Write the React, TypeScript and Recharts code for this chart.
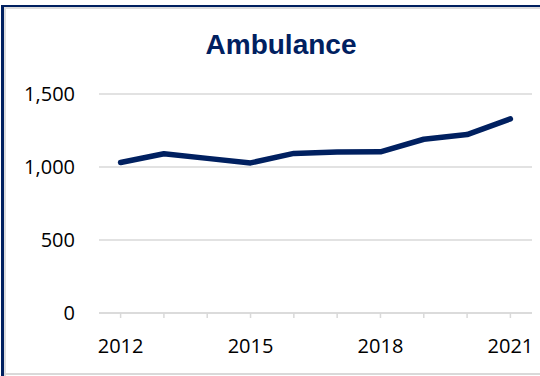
import React from 'react';
import { LineChart, Line, XAxis, YAxis, CartesianGrid } from 'recharts';

const years = ['2012', '2013', '2014', '2015', '2016', '2017', '2018', '2019', '2020', '2021'];
const ambulance = [1031, 1091, 1059, 1028, 1093, 1102, 1104, 1190, 1222, 1330];
const yTicks = [0, 500, 1000, 1500];
const shownYears = ['2012', '2015', '2018', '2021'];

const data = years.map((y, i) => ({ year: y, value: ambulance[i] }));

const NAVY = '#002060';
const GRID = '#d9d9d9';
const FONT = '"Open Sans", "Liberation Sans", Arial, sans-serif';

export default function App() {
  return (
    <div style={{ position: 'fixed', left: 0, top: 0, width: 540, height: 376, overflow: 'hidden', background: '#fff' }}>
      {/* frame */}
      <div style={{ position: 'absolute', left: 4, top: 7, width: 600, height: 600, borderLeft: '2px solid #dcdcdc', borderTop: '2px solid #dcdcdc', boxSizing: 'border-box' }} />
      <div style={{ position: 'absolute', left: 1, top: 5, width: 3, height: 371, background: NAVY }} />
      <div style={{ position: 'absolute', left: 1, top: 5, width: 600, height: 2, background: NAVY }} />
      <div style={{ position: 'absolute', left: 4, top: 373, width: 540, height: 2, background: GRID }} />
      <svg style={{ position: 'absolute', left: 0, top: 0 }} width={540} height={70}>
        <text x={281} y={54} textAnchor="middle" fill={NAVY} fontFamily='"Liberation Sans", Arial, sans-serif' fontWeight="bold" fontSize={28}>
          Ambulance
        </text>
      </svg>
      <div style={{ position: 'absolute', left: 0, top: 0 }}>
        <LineChart width={540} height={376} data={data} margin={{ top: 94, right: 8, bottom: 0, left: 0 }}>
          <CartesianGrid vertical={false} stroke={GRID} strokeWidth={1.5} />
          <XAxis
            dataKey="year"
            interval={0}
            height={63}
            padding={{ left: 21.6, right: 21.6 }}
            tickSize={5}
            tickMargin={21}
            axisLine={{ stroke: GRID, strokeWidth: 1.5 }}
            tickLine={{ stroke: GRID, strokeWidth: 1.5 }}
            tick={{ fill: '#000', fontSize: 20, fontFamily: FONT }}
            tickFormatter={(v: string) => (shownYears.includes(v) ? v : '')}
          />
          <YAxis
            domain={[0, 1500]}
            ticks={yTicks}
            width={99}
            axisLine={false}
            tickLine={false}
            tickSize={0}
            tickMargin={24}
            tick={{ fill: '#000', fontSize: 20, fontFamily: FONT }}
            tickFormatter={(v: number) => v.toLocaleString('en-US')}
          />
          <Line
            type="linear"
            dataKey="value"
            stroke={NAVY}
            strokeWidth={5.5}
            strokeLinecap="round"
            strokeLinejoin="round"
            dot={false}
            activeDot={false}
            isAnimationActive={false}
          />
        </LineChart>
      </div>
    </div>
  );
}
